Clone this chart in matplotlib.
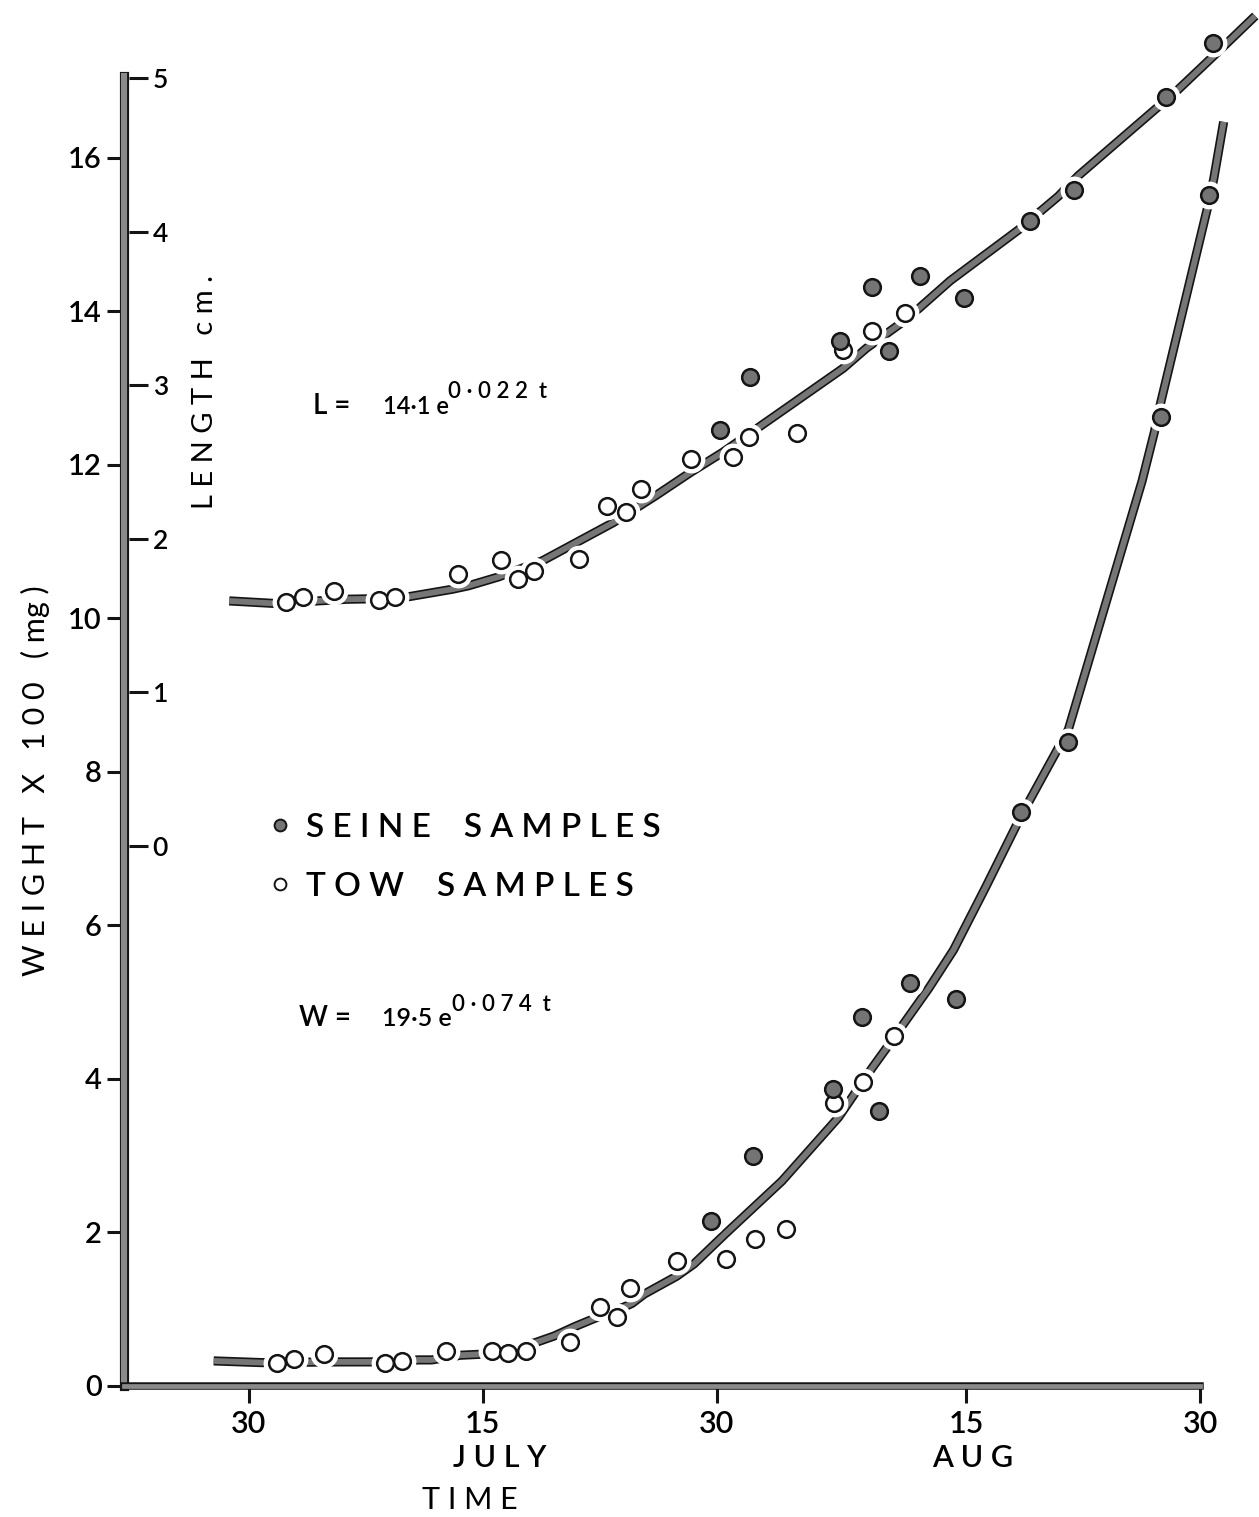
import matplotlib
matplotlib.use("Agg")
import matplotlib.pyplot as plt
import matplotlib.patheffects as pe
from matplotlib.lines import Line2D

plt.rcParams["font.family"] = ["Lato", "DejaVu Sans"]
plt.rcParams["font.weight"] = "semibold"

# time axis: days after 30 June
tick_days = [0, 15, 30, 46, 61]
tick_labels = ["30", "15", "30", "15", "30"]
month_days = [16.1, 46.4]
month_labels = ["J U L Y", "A U G"]

weight_ticks = [0, 2, 4, 6, 8, 10, 12, 14, 16]
length_ticks = [0, 1, 2, 3, 4, 5]

# length (cm)
tow_len_day = [2.40, 3.48, 5.44, 8.32, 9.39, 13.41, 16.17, 17.26, 18.26, 21.19,
               22.97, 24.21, 25.17, 28.37, 31.05, 32.05, 35.15, 38.10, 39.96, 42.10]
tow_len = [1.59, 1.62, 1.66, 1.60, 1.62, 1.77, 1.86, 1.74, 1.79, 1.87,
           2.21, 2.17, 2.32, 2.52, 2.53, 2.66, 2.69, 3.23, 3.35, 3.47]
seine_len_day = [30.19, 32.11, 37.93, 39.96, 41.03, 43.06, 45.88, 50.07, 52.93, 58.83, 61.83]
seine_len = [2.71, 3.05, 3.29, 3.64, 3.22, 3.71, 3.57, 4.07, 4.27, 4.88, 5.23]

# weight (x 100 mg)
tow_wt_day = [1.80, 2.90, 4.82, 8.74, 9.84, 12.66, 15.59, 16.64, 17.75, 20.57,
              22.54, 23.63, 24.45, 27.44, 30.58, 32.48, 34.43, 37.53, 39.39, 41.35]
tow_wt = [0.30, 0.35, 0.41, 0.30, 0.32, 0.45, 0.45, 0.43, 0.45, 0.57,
          1.03, 0.90, 1.27, 1.63, 1.65, 1.91, 2.04, 3.69, 3.96, 4.56]
seine_wt_day = [29.66, 32.31, 37.44, 39.32, 40.38, 42.37, 45.35, 49.53, 52.55, 58.49, 61.55]
seine_wt = [2.15, 3.00, 3.87, 4.81, 3.58, 5.25, 5.04, 7.48, 8.39, 12.62, 15.52]

# hand drawn fitted curves
len_curve_day = [-1.25, 1.57, 6.32, 7.47, 10.29, 13.05, 14.07, 16.00, 18.82, 23.37,
                 26.07, 28.31, 30.36, 32.67, 38.12, 39.60, 41.78, 42.94, 44.98, 49.34,
                 51.91, 53.19, 58.13, 59.54, 61.72, 62.75, 64.54]
len_curve = [1.594, 1.578, 1.605, 1.607, 1.622, 1.670, 1.692, 1.750, 1.855, 2.104,
             2.278, 2.43, 2.56, 2.723, 3.11, 3.24, 3.40, 3.497, 3.68, 4.01,
             4.23, 4.364, 4.797, 4.92, 5.13, 5.23, 5.405]
wt_curve_day = [-2.25, 0.81, 5.60, 7.81, 10.87, 11.73, 13.58, 14.93, 18.37, 19.59,
                20.89, 22.29, 24.08, 24.57, 25.36, 27.44, 28.55, 30.55, 34.19, 37.82,
                38.89, 39.96, 40.92, 42.03, 43.60, 45.19, 47.23, 49.53, 52.55, 57.28,
                58.06, 58.45, 61.44, 61.87, 62.51]
wt_curve = [0.326, 0.304, 0.313, 0.313, 0.339, 0.339, 0.40, 0.413, 0.564, 0.651,
            0.772, 0.89, 1.03, 1.075, 1.197, 1.43, 1.59, 1.98, 2.67, 3.50,
            3.82, 4.14, 4.41, 4.73, 5.18, 5.68, 6.49, 7.43, 8.55, 11.79,
            12.42, 12.79, 15.32, 15.72, 16.47]

LEN_ZERO = 7.04   # weight value level with length 0
LEN_STEP = 2.0    # weight units per cm
W_TOP = 18.0

LINE_GREY = "#767676"
DOT_GREY = "#747474"
INK = "#141414"
outline = [pe.Stroke(linewidth=6.6, foreground=INK), pe.Normal()]

fig = plt.figure(figsize=(12.59, 15.17), dpi=100)
ax = fig.add_axes([0.0985, 0.0864, 0.8993, 0.9107])
ax.set_xlim(-8.0, 64.6)
ax.set_ylim(0, W_TOP)
ax2 = ax.twinx()
ax2.set_ylim(-LEN_ZERO / LEN_STEP, (W_TOP - LEN_ZERO) / LEN_STEP)


def draw_series(a, cx, cy, tx, ty, sx, sy):
    a.plot(cx, cy, color=LINE_GREY, lw=4.2, solid_capstyle="butt",
           solid_joinstyle="round", path_effects=outline, zorder=2, clip_on=False)
    # white halo so the line breaks around the points
    a.plot(tx + sx, ty + sy, "o", ls="none", ms=20, mfc="white", mec="none",
           zorder=3, clip_on=False)
    a.plot(tx, ty, "o", ls="none", ms=12, mfc="white", mec=INK, mew=1.8,
           zorder=4, clip_on=False)
    a.plot(sx, sy, "o", ls="none", ms=12, mfc=DOT_GREY, mec=INK, mew=1.8,
           zorder=4, clip_on=False)


draw_series(ax, wt_curve_day, wt_curve, tow_wt_day, tow_wt, seine_wt_day, seine_wt)
draw_series(ax2, len_curve_day, len_curve, tow_len_day, tow_len, seine_len_day, seine_len)

# spines
for s in ["top", "right"]:
    ax.spines[s].set_visible(False)
for s in ["top", "left", "bottom"]:
    ax2.spines[s].set_visible(False)
ax2.spines["right"].set_position(("axes", 0.0045))
ax2.spines["right"].set_color("none")
ax.spines["left"].set_linewidth(4.4)
ax.spines["left"].set_path_effects([pe.Stroke(linewidth=6.6, foreground=INK), pe.Normal()])
ax.spines["bottom"].set_linewidth(3.4)
ax.spines["bottom"].set_path_effects([pe.Stroke(linewidth=5.4, foreground=INK), pe.Normal()])
for s in ["left", "bottom"]:
    ax.spines[s].set_color("#8a8a8a")
ax.spines["left"].set_bounds(0, 17.07)
ax.spines["bottom"].set_bounds(-8.0, 61.0)

# ticks
ax.set_yticks(weight_ticks, [str(v) for v in weight_ticks])
ax.tick_params(axis="y", direction="out", length=12, width=2.2, pad=4,
               labelsize=21, color=INK)
ax.set_xticks(tick_days, tick_labels)
ax.tick_params(axis="x", which="major", direction="out", length=12, width=2.2,
               pad=5, labelsize=22, color=INK)
ax.set_xticks(month_days, month_labels, minor=True)
ax.tick_params(axis="x", which="minor", length=0, pad=42, labelsize=22)
ax2.set_yticks(length_ticks, [str(v) for v in length_ticks])
ax2.tick_params(axis="y", direction="out", length=14, width=2.2, pad=3,
                labelsize=19, color=INK)

# axis labels
ax.set_ylabel("W E I G H T   X   1 0 0   ( mg )", fontsize=22)
ax.yaxis.label.set_va("center")
ax.yaxis.set_label_coords(-0.0786, 0.438)
ax2.set_ylabel("L E N G T H   c m .", fontsize=21)
ax2.yaxis.label.set_va("center")
ax2.yaxis.set_label_coords(0.0716, 0.7195)
ax.set_xlabel("T I M E", fontsize=22)
ax.xaxis.label.set_va("center")
ax.xaxis.set_label_coords(0.3056, -0.0825)

# equations
ax.text(4.14, 12.66, "L =", fontsize=20, va="baseline", ha="left")
ax.text(8.62, 12.66, "14·1 e", fontsize=17, va="baseline", ha="left")
ax.text(12.79, 12.87, "0 · 0 2 2  t", fontsize=16, va="baseline", ha="left")
ax.text(3.23, 4.69, "W =", fontsize=20, va="baseline", ha="left")
ax.text(8.56, 4.69, "19·5 e", fontsize=18, va="baseline", ha="left")
ax.text(13.05, 4.89, "0 · 0 7 4  t", fontsize=16, va="baseline", ha="left")

# legend
handles = [
    Line2D([], [], marker="o", ls="none", ms=8.5, mfc=DOT_GREY, mec=INK, mew=1.4),
    Line2D([], [], marker="o", ls="none", ms=8.5, mfc="white", mec=INK, mew=1.4),
]
ax.legend(handles, ["S E I N E    S A M P L E S", "T O W    S A M P L E S"],
          loc="upper left", bbox_to_anchor=(0.1265, 0.415), frameon=False,
          fontsize=24, handlelength=0.75, handletextpad=0.4, borderpad=0,
          borderaxespad=0, labelspacing=0.88)

fig.savefig("out.png", dpi=100, facecolor="white")
